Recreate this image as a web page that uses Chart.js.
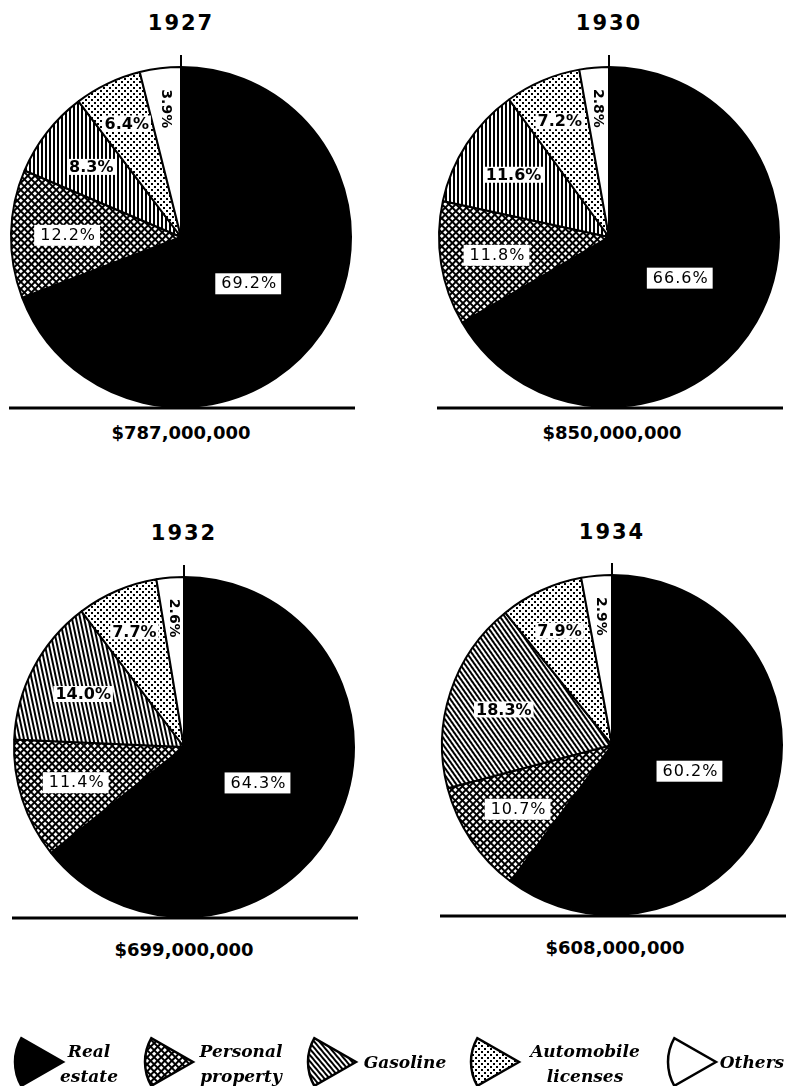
<!DOCTYPE html>
<html>
<head>
<meta charset="utf-8">
<script src="https://cdn.jsdelivr.net/npm/chart.js@4.4.1/dist/chart.umd.min.js"></script>
<style>
  html, body { margin: 0; padding: 0; background: #fff; }
  body { width: 786px; height: 1086px; position: relative; overflow: hidden; color: #000; font-family: "DejaVu Sans", sans-serif; }
  .year { position: absolute; width: 200px; margin-left: -100px; text-align: center; font-weight: bold; font-size: 21px; letter-spacing: 2px; line-height: 24px; }
  .amount { position: absolute; width: 240px; margin-left: -120px; text-align: center; font-weight: bold; font-size: 18px; line-height: 22px; }
  .pie { position: absolute; }
  .leg-icon { position: absolute; top: 1036px; }
  .leg-text { position: absolute; width: 140px; margin-left: -70px; text-align: center; font-family: "DejaVu Serif", serif; font-weight: bold; font-style: italic; font-size: 17px; line-height: 25px; }
</style>
</head>
<body>
<script>
// data
const categories = ['Real estate', 'Personal property', 'Gasoline', 'Automobile licenses', 'Others'];
const legendLines = [['Real', 'estate'], ['Personal', 'property'], ['Gasoline'], ['Automobile', 'licenses'], ['Others']];
const years = ['1927', '1930', '1932', '1934'];
const totals = ['$787,000,000', '$850,000,000', '$699,000,000', '$608,000,000'];
const share1927 = [69.2, 12.2, 8.3, 6.4, 3.9];
const share1930 = [66.6, 11.8, 11.6, 7.2, 2.8];
const share1932 = [64.3, 11.4, 14.0, 7.7, 2.6];
const share1934 = [60.2, 10.7, 18.3, 7.9, 2.9];
const shares = [share1927, share1930, share1932, share1934];

// layout
const pieCenters = [[181, 237], [609, 237], [184, 747], [612, 745]];
const yearY = [23, 23, 533, 532];
const amountY = [433, 433, 950, 948];
const amountX = [181, 612, 184, 615];
const stripeAngle = [0, 0, -12, -35];
const labelRadius = [0.48, 0.67, 0.67, 0.74, 0.76];
const SIZE = 384;

function makeTile(kind) {
  const c = document.createElement('canvas');
  const g = c.getContext('2d');
  c.width = 6; c.height = 6;
  if (kind === 'check') {
    c.width = 5; c.height = 5;
    g.fillStyle = '#000'; g.fillRect(0, 0, 5, 5);
    g.fillStyle = '#fff'; g.fillRect(1, 1, 3, 3);
  } else if (kind === 'stripe') {
    c.width = 4; c.height = 4;
    g.fillStyle = '#fff'; g.fillRect(0, 0, 4, 4);
    g.fillStyle = '#000'; g.fillRect(0, 0, 2, 4);
  } else if (kind === 'dots') {
    g.fillStyle = '#fff'; g.fillRect(0, 0, 6, 6);
    g.fillStyle = '#000'; g.fillRect(0, 0, 2, 2); g.fillRect(3, 3, 2, 2);
  }
  return c;
}

function fills(ctx, angle) {
  const stripe = ctx.createPattern(makeTile('stripe'), 'repeat');
  if (angle) stripe.setTransform(new DOMMatrix().rotate(angle));
  const check = ctx.createPattern(makeTile('check'), 'repeat');
  check.setTransform(new DOMMatrix().rotate(45));
  return ['#000', check, stripe, ctx.createPattern(makeTile('dots'), 'repeat'), '#fff'];
}

const decorations = {
  id: 'decorations',
  afterDatasetsDraw(chart) {
    const ctx = chart.ctx;
    const arcs = chart.getDatasetMeta(0).data;
    const {x, y, outerRadius} = arcs[0].getProps(['x', 'y', 'outerRadius'], true);
    ctx.save();
    ctx.strokeStyle = '#000';
    ctx.lineWidth = 2;
    ctx.beginPath();
    ctx.moveTo(x, y - outerRadius);
    ctx.lineTo(x, y - outerRadius - 12);
    ctx.stroke();
    ctx.lineWidth = 3;
    ctx.beginPath();
    ctx.moveTo(x - outerRadius - 2, y + outerRadius + 1);
    ctx.lineTo(x + outerRadius + 4, y + outerRadius + 1);
    ctx.stroke();

    const values = chart.data.datasets[0].data;
    ctx.textAlign = 'center';
    ctx.textBaseline = 'middle';
    arcs.forEach((arc, i) => {
      const p = arc.getProps(['startAngle', 'endAngle'], true);
      const mid = (p.startAngle + p.endAngle) / 2;
      const r = outerRadius * labelRadius[i];
      const lx = x + Math.cos(mid) * r;
      const ly = y + Math.sin(mid) * r;
      const text = values[i].toFixed(1) + '%';
      ctx.save();
      ctx.translate(lx, ly);
      if (i < 2) {
        ctx.font = '16px "DejaVu Sans"';
        ctx.letterSpacing = '1px';
        const w = ctx.measureText(text).width + 10;
        ctx.fillStyle = '#fff';
        ctx.fillRect(-w / 2, -10, w, 21);
        ctx.fillStyle = '#000';
        ctx.fillText(text, 1, 1);
      } else if (i < 4) {
        ctx.font = 'bold 16px "DejaVu Sans"';
        const w = ctx.measureText(text).width + 4;
        ctx.fillStyle = '#fff';
        ctx.fillRect(-w / 2, -8, w, 16);
        ctx.fillStyle = '#000';
        ctx.fillText(text, 0, 1);
      } else {
        ctx.rotate(Math.PI / 2);
        ctx.font = 'bold 14px "DejaVu Sans"';
        ctx.fillStyle = '#000';
        ctx.fillText(text, 0, 0);
      }
      ctx.restore();
    });
    ctx.restore();
  }
};

years.forEach((yr, k) => {
  const [cx, cy] = pieCenters[k];
  const t = document.createElement('div');
  t.className = 'year';
  t.style.left = cx + 'px';
  t.style.top = (yearY[k] - 12) + 'px';
  t.textContent = yr;
  document.body.appendChild(t);

  const a = document.createElement('div');
  a.className = 'amount';
  a.style.left = amountX[k] + 'px';
  a.style.top = (amountY[k] - 11) + 'px';
  a.textContent = totals[k];
  document.body.appendChild(a);

  const canvas = document.createElement('canvas');
  canvas.className = 'pie';
  canvas.width = SIZE; canvas.height = SIZE;
  canvas.style.width = SIZE + 'px'; canvas.style.height = SIZE + 'px';
  canvas.style.left = (cx - SIZE / 2) + 'px';
  canvas.style.top = (cy - SIZE / 2) + 'px';
  document.body.appendChild(canvas);
  const ctx = canvas.getContext('2d');

  new Chart(canvas, {
    type: 'pie',
    data: {
      labels: categories,
      datasets: [{
        data: shares[k],
        backgroundColor: fills(ctx, stripeAngle[k]),
        borderColor: '#000',
        borderWidth: 2
      }]
    },
    options: {
      responsive: false,
      animation: false,
      events: [],
      layout: { padding: 21 },
      plugins: { legend: { display: false }, tooltip: { enabled: false } }
    },
    plugins: [decorations]
  });
});

// legend
const iconLeft = [10, 140, 303, 466, 663];
const textCenter = [89, 241, 405, 585, 752];
legendLines.forEach((lines, i) => {
  const c = document.createElement('canvas');
  c.className = 'leg-icon';
  c.width = 56; c.height = 52;
  c.style.left = iconLeft[i] + 'px';
  document.body.appendChild(c);
  const g = c.getContext('2d');
  const f = fills(g, -40)[i];
  g.beginPath();
  g.moveTo(53, 26);
  g.arc(53, 26, 48, Math.PI - 0.52, Math.PI + 0.52);
  g.closePath();
  g.fillStyle = f;
  g.fill();
  g.lineWidth = 2.5;
  g.lineJoin = 'miter';
  g.strokeStyle = '#000';
  g.stroke();

  const d = document.createElement('div');
  d.className = 'leg-text';
  d.style.left = textCenter[i] + 'px';
  d.style.top = (lines.length > 1 ? 1039 : 1050) + 'px';
  d.innerHTML = lines.join('<br>');
  document.body.appendChild(d);
});
</script>
</body>
</html>
